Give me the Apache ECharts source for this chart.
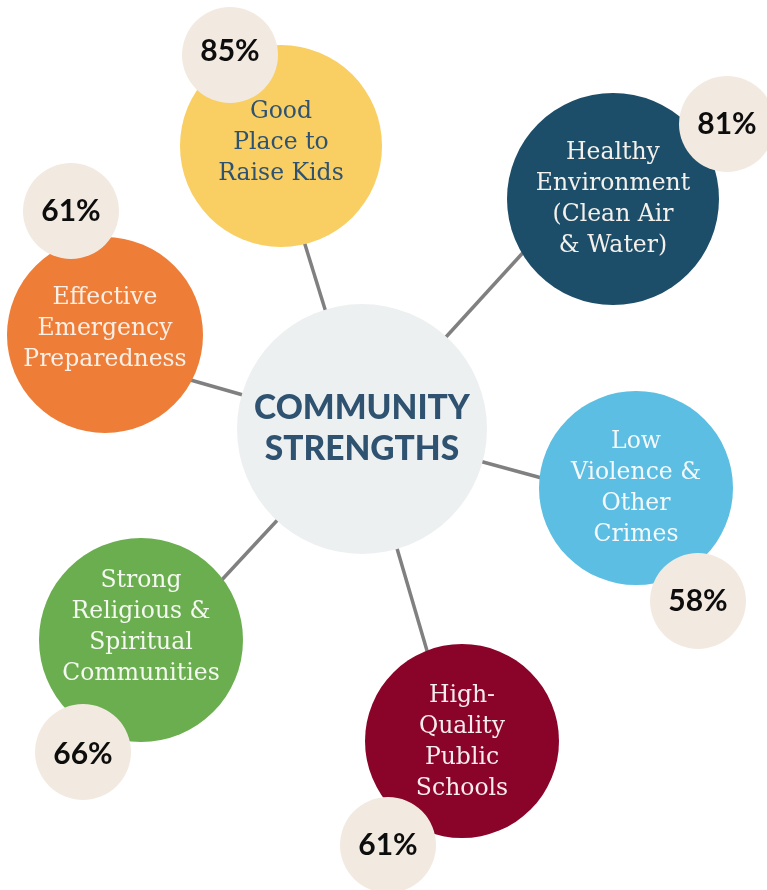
<!DOCTYPE html>
<html>
<head>
<meta charset="utf-8">
<script src="https://cdn.jsdelivr.net/npm/echarts@6/dist/echarts.min.js"></script>
<style>html,body{margin:0;padding:0;background:#fff}#chart{width:767px;height:890px}</style>
</head>
<body>
<div id="chart"></div>
<script>
// ---- data ----
const centerTitle = 'COMMUNITY\nSTRENGTHS';
const categories = [
  'Good\nPlace to\nRaise Kids',
  'Healthy\nEnvironment\n(Clean Air\n& Water)',
  'Effective\nEmergency\nPreparedness',
  'Low\nViolence &\nOther\nCrimes',
  'Strong\nReligious &\nSpiritual\nCommunities',
  'High-\nQuality\nPublic\nSchools'
];
const percents = [85, 81, 61, 58, 66, 61];

// ---- layout (pixel positions in the 767x890 canvas) ----
const hub = { x: 362, y: 429, r: 125 };
const bubblePos = [[281,146],[613,199],[105,335],[636,488],[141,640],[462,741]];
const bubbleR = [101,106,98,97,102,97];
const textDy = [-3,0,-6,0,-13,1];
const badgePos = [[230,55],[727,124],[71,211],[698,601],[83,752],[388,845]];
const badgeTextDy = [-4,0,0,0,2,0];
const badgeR = 48;
const spokeEnds = [[303,238],[540,234],[180,377],[560,483],[205,598],[435,678]];

// ---- styles ----
const bubbleColors = ['#F9CF63','#1D4E69','#ED7D37','#5BBEE2','#6AAE4F','#8A0329'];
const bubbleText = ['#2E5270','#F4F1EC','#FBEFE6','#F4F8FB','#F4F8F0','#F8ECEE'];

const chart = echarts.init(document.getElementById('chart'));
chart.setOption({
  animation: false,
  grid: { left: 0, right: 0, top: 0, bottom: 0 },
  xAxis: { type: 'value', min: 0, max: 767, show: false },
  yAxis: { type: 'value', min: 0, max: 890, inverse: true, show: false },
  series: [
    {
      type: 'lines',
      coordinateSystem: 'cartesian2d',
      z: 1,
      silent: true,
      lineStyle: { color: '#808080', width: 3.5, opacity: 1, curveness: 0 },
      data: spokeEnds.map(e => ({ coords: [[hub.x, hub.y], e] }))
    },
    {
      type: 'scatter',
      z: 2,
      symbol: 'circle',
      silent: true,
      data: [{
        value: [hub.x, hub.y],
        symbolSize: hub.r * 2,
        itemStyle: { color: '#EDF0F1', opacity: 1 },
        label: {
          show: true, position: 'inside', formatter: centerTitle,
          fontFamily: 'Lato', fontWeight: 900, fontSize: 33.5, lineHeight: 41,
          color: '#2E5270'
        }
      }]
    },
    {
      type: 'scatter',
      z: 3,
      symbol: 'circle',
      silent: true,
      data: categories.map((c, i) => ({
        value: bubblePos[i],
        symbolSize: bubbleR[i] * 2,
        itemStyle: { color: bubbleColors[i], opacity: 1 },
        label: {
          show: true, position: 'inside', formatter: c,
          fontFamily: 'DejaVu Serif', fontSize: 23.5, lineHeight: 31,
          color: bubbleText[i], offset: [0, textDy[i]]
        }
      }))
    },
    {
      type: 'scatter',
      z: 4,
      symbol: 'circle',
      silent: true,
      data: percents.map((p, i) => ({
        value: badgePos[i],
        symbolSize: badgeR * 2,
        itemStyle: { color: '#F2EAE0', opacity: 1 },
        label: {
          show: true, position: 'inside', formatter: p + '%',
          fontFamily: 'Lato', fontWeight: 'bold', fontSize: 30,
          color: '#0D0D0D', offset: [0, badgeTextDy[i]]
        }
      }))
    }
  ]
});
</script>
</body>
</html>
